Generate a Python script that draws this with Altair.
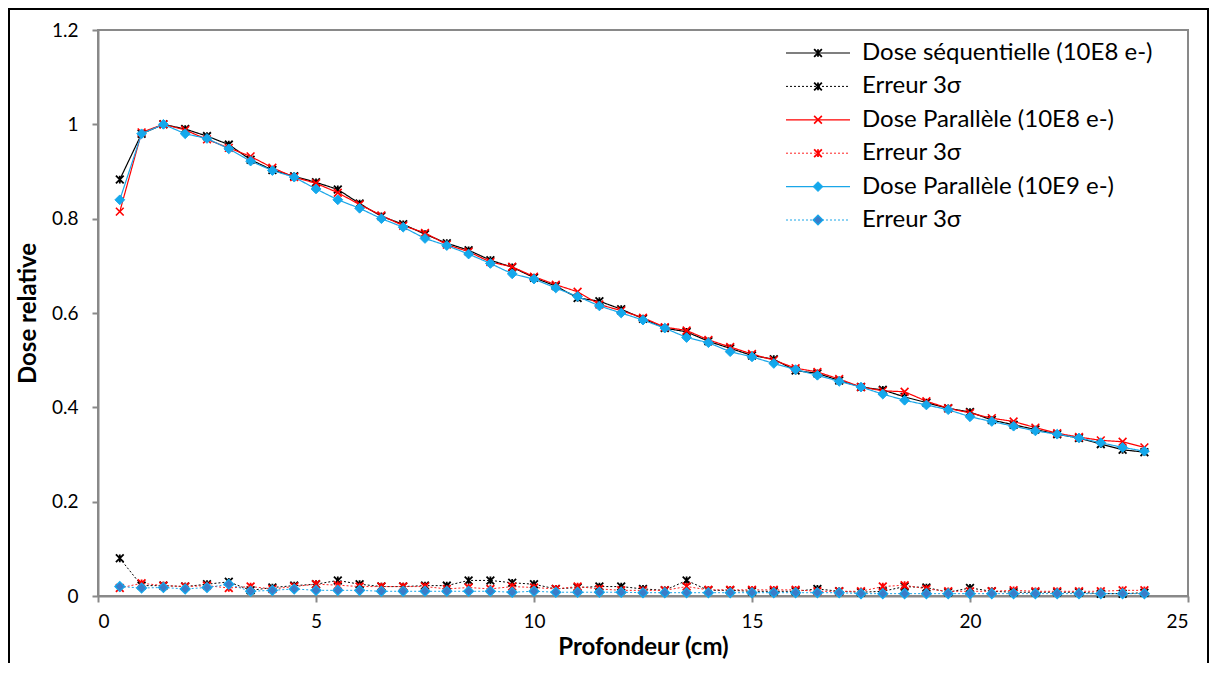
import altair as alt
import pandas as pd

depth = [0.5, 1.0, 1.5, 2.0, 2.5, 3.0, 3.5, 4.0, 4.5, 5.0, 5.5, 6.0, 6.5, 7.0, 7.5, 8.0,
         8.5, 9.0, 9.5, 10.0, 10.5, 11.0, 11.5, 12.0, 12.5, 13.0, 13.5, 14.0, 14.5, 15.0, 15.5, 16.0,
         16.5, 17.0, 17.5, 18.0, 18.5, 19.0, 19.5, 20.0, 20.5, 21.0, 21.5, 22.0, 22.5, 23.0, 23.5, 24.0]

dose_seq = [0.883, 0.980, 1.000, 0.990, 0.975, 0.957, 0.925, 0.903, 0.890, 0.877, 0.862, 0.832,
            0.805, 0.788, 0.767, 0.748, 0.733, 0.712, 0.697, 0.675, 0.657, 0.632, 0.625, 0.608,
            0.588, 0.568, 0.560, 0.540, 0.525, 0.510, 0.502, 0.478, 0.472, 0.457, 0.443, 0.437,
            0.422, 0.410, 0.398, 0.390, 0.373, 0.363, 0.353, 0.343, 0.335, 0.322, 0.310, 0.305]
err_seq = [0.080, 0.022, 0.022, 0.020, 0.025, 0.030, 0.012, 0.018, 0.022, 0.025, 0.033, 0.025,
           0.020, 0.020, 0.022, 0.022, 0.033, 0.033, 0.028, 0.025, 0.015, 0.018, 0.020, 0.020,
           0.015, 0.012, 0.033, 0.012, 0.012, 0.010, 0.010, 0.010, 0.015, 0.010, 0.008, 0.010,
           0.020, 0.018, 0.008, 0.017, 0.010, 0.008, 0.008, 0.008, 0.008, 0.005, 0.005, 0.007]
dose_par8 = [0.815, 0.983, 1.000, 0.988, 0.968, 0.950, 0.932, 0.908, 0.888, 0.875, 0.855, 0.830,
             0.807, 0.785, 0.770, 0.745, 0.730, 0.708, 0.698, 0.677, 0.660, 0.645, 0.618, 0.605,
             0.590, 0.570, 0.563, 0.543, 0.528, 0.513, 0.500, 0.483, 0.475, 0.460, 0.443, 0.435,
             0.433, 0.413, 0.398, 0.388, 0.377, 0.370, 0.357, 0.345, 0.337, 0.330, 0.327, 0.315]
err_par8 = [0.017, 0.027, 0.022, 0.020, 0.022, 0.017, 0.020, 0.015, 0.020, 0.025, 0.023, 0.020,
            0.020, 0.020, 0.020, 0.015, 0.018, 0.015, 0.020, 0.018, 0.015, 0.020, 0.015, 0.012,
            0.012, 0.012, 0.020, 0.013, 0.013, 0.013, 0.013, 0.013, 0.010, 0.010, 0.010, 0.020,
            0.023, 0.015, 0.010, 0.010, 0.010, 0.012, 0.010, 0.010, 0.010, 0.010, 0.012, 0.012]
dose_par9 = [0.840, 0.980, 1.000, 0.980, 0.970, 0.948, 0.922, 0.902, 0.888, 0.863, 0.840, 0.822,
             0.800, 0.782, 0.758, 0.743, 0.725, 0.705, 0.683, 0.672, 0.653, 0.635, 0.615, 0.600,
             0.585, 0.568, 0.548, 0.537, 0.518, 0.507, 0.493, 0.480, 0.468, 0.455, 0.443, 0.428,
             0.415, 0.405, 0.395, 0.380, 0.370, 0.360, 0.350, 0.343, 0.335, 0.325, 0.315, 0.307]
err_par9 = [0.020, 0.017, 0.018, 0.015, 0.018, 0.025, 0.010, 0.012, 0.015, 0.012, 0.012, 0.012,
            0.010, 0.010, 0.010, 0.010, 0.010, 0.010, 0.008, 0.010, 0.008, 0.008, 0.008, 0.008,
            0.007, 0.007, 0.007, 0.007, 0.007, 0.007, 0.007, 0.007, 0.007, 0.007, 0.005, 0.005,
            0.005, 0.005, 0.005, 0.005, 0.005, 0.005, 0.005, 0.005, 0.005, 0.005, 0.005, 0.005]

labels = ["Dose séquentielle (10E8 e-)", "Erreur 3σ", "Dose Parallèle (10E8 e-)",
          "Erreur 3σ", "Dose Parallèle (10E9 e-)", "Erreur 3σ"]

FONT = "Lato"
STAR = "M-1,-1L1,1M-1,1L1,-1M0,-1L0,1"
XMARK = "M-1,-1L1,1M-1,1L1,-1"

x_enc = alt.X("depth:Q", title="Profondeur (cm)",
              scale=alt.Scale(domain=[0, 25], nice=False, zero=False),
              axis=alt.Axis(values=[0, 5, 10, 15, 20, 25], format="d",
                            titleX=545, titleY=51, titleBaseline="middle",
                            labelPadding=10))
y_enc = alt.Y("dose:Q", title="Dose relative",
              scale=alt.Scale(domain=[0, 1.2], nice=False),
              axis=alt.Axis(values=[0, 0.2, 0.4, 0.6, 0.8, 1.0, 1.2], format=".1~f",
                            titleX=-70, titleY=283, titleAngle=-90, titleBaseline="middle",
                            titleAlign="center", labelPadding=14))

lx = alt.Scale(domain=[0, 1], range=[688, 752])
ly = alt.Scale(domain=[0, 5], range=[23, 190])

data_layers = []
legend_layers = []


def add_series(values, row, color, dash, width, shape, size, filled, fill, stroke, swidth):
    df = pd.DataFrame({"depth": depth, "dose": values})
    base = alt.Chart(df)
    line = base.mark_line(color=color, strokeWidth=width, strokeDash=dash).encode(x=x_enc, y=y_enc)
    if filled:
        pts = base.mark_point(shape=shape, size=size, filled=True, fill=fill, stroke=stroke,
                              strokeWidth=swidth, opacity=1).encode(x=x_enc, y=y_enc)
    else:
        pts = base.mark_point(shape=shape, size=size, filled=False, stroke=stroke,
                              strokeWidth=swidth, opacity=1).encode(x=x_enc, y=y_enc)
    data_layers.extend([line, pts])

    ldf = pd.DataFrame({"row": [row], "a": [0], "b": [1], "m": [0.5], "label": [labels[row]]})
    lbase = alt.Chart(ldf)
    lrule = lbase.mark_rule(color=color, strokeWidth=width, strokeDash=dash).encode(
        x=alt.X("a:Q", scale=lx, axis=None), x2="b:Q",
        y=alt.Y("row:Q", scale=ly, axis=None))
    if filled:
        lpt = lbase.mark_point(shape=shape, size=size, filled=True, fill=fill, stroke=stroke,
                               strokeWidth=swidth, opacity=1)
    else:
        lpt = lbase.mark_point(shape=shape, size=size, filled=False, stroke=stroke,
                               strokeWidth=swidth, opacity=1)
    lpt = lpt.encode(x=alt.X("m:Q", scale=lx, axis=None), y=alt.Y("row:Q", scale=ly, axis=None))
    ltext = lbase.mark_text(align="left", baseline="middle", dx=12, font=FONT, fontSize=24,
                            color="black").encode(
        x=alt.X("b:Q", scale=lx, axis=None), y=alt.Y("row:Q", scale=ly, axis=None),
        text="label:N")
    legend_layers.extend([lrule, lpt, ltext])


add_series(dose_seq, 0, "#000000", [1, 0], 1.2, STAR, 60, False, None, "#000000", 1.8)
add_series(err_seq, 1, "#000000", [2, 2], 1.0, STAR, 60, False, None, "#000000", 1.8)
add_series(dose_par8, 2, "#ff0000", [1, 0], 1.2, XMARK, 60, False, None, "#ff0000", 1.6)
add_series(err_par8, 3, "#ff2020", [2, 2], 1.0, STAR, 60, False, None, "#ff0000", 1.8)
add_series(dose_par9, 4, "#1aa6e8", [1, 0], 1.2, "diamond", 95, True, "#14a8ec", "#14a8ec", 1)
add_series(err_par9, 5, "#1aa6e8", [2, 2], 1.0, "diamond", 95, True, "#3a7cc8", "#14a8ec", 1.3)

border = alt.Chart(alt.Data(values=[{}])).mark_rect(
    filled=False, fill=None, stroke="black", strokeWidth=2).encode(
    x=alt.value(-89), x2=alt.value(1110), y=alt.value(-21), y2=alt.value(660))

chart = alt.layer(
    alt.layer(*data_layers),
    alt.layer(*legend_layers),
    border,
).resolve_scale(x="independent", y="independent").properties(
    width=1090, height=566,
    autosize=alt.AutoSizeParams(type="none"),
    padding={"left": 90, "top": 22, "right": 21, "bottom": 67},
).configure_view(
    stroke="#898989", strokeWidth=2
).configure_axis(
    grid=False, domainColor="#898989", domainWidth=2, tickColor="#898989", tickWidth=2,
    tickSize=6, labelFont=FONT, labelFontSize=19, labelColor="black",
    titleFont=FONT, titleFontSize=24, titleFontWeight="bold", titleColor="black"
)

chart.save("out.html", embed_options={"renderer": "svg", "actions": False})
